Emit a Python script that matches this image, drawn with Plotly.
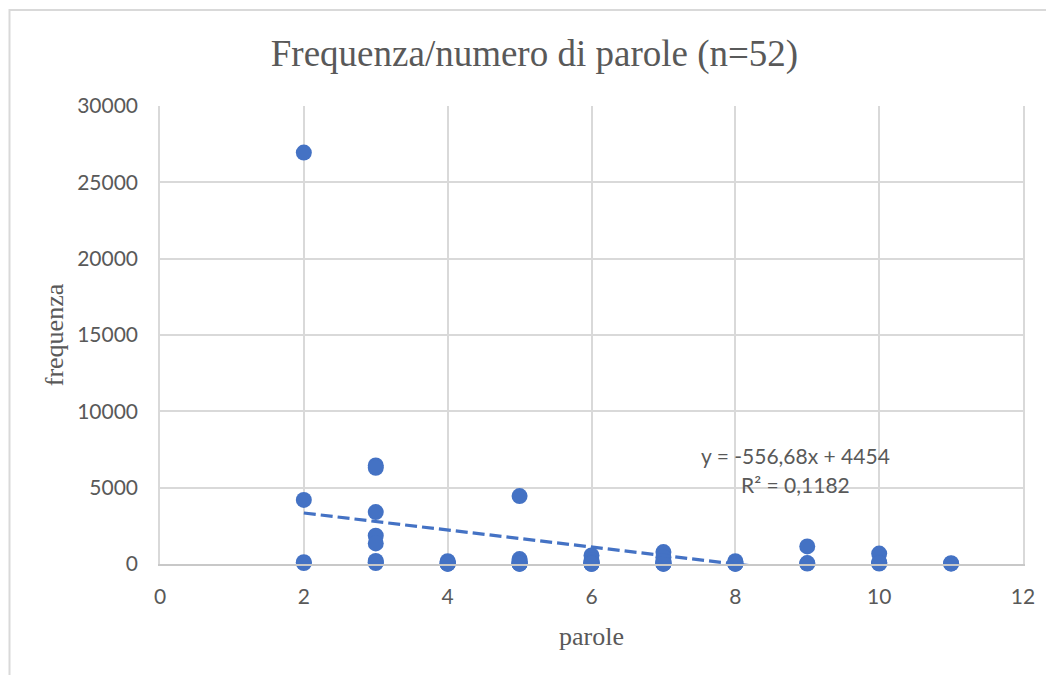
import plotly.graph_objects as go

# ---- data ----
parole_x = [2, 2, 2, 2,
            3, 3, 3, 3, 3, 3, 3, 3,
            4, 4, 4, 4, 4,
            5, 5, 5, 5, 5, 5, 5,
            6, 6, 6, 6, 6, 6, 6,
            7, 7, 7, 7, 7, 7, 7,
            8, 8, 8, 8, 8,
            9, 9, 9,
            10, 10, 10, 10,
            11, 11]
frequenza_y = [26950, 4200, 120, 60,
               6450, 6300, 3400, 1850, 1350, 200, 120, 60,
               180, 90, 40, 20, 10,
               4450, 320, 150, 80, 40, 20, 10,
               560, 250, 120, 60, 30, 15, 10,
               780, 450, 200, 90, 40, 20, 10,
               180, 90, 40, 20, 10,
               1150, 60, 30,
               680, 120, 60, 30,
               50, 20]
trend_slope = -556.68
trend_intercept = 4454
trend_r2 = 0.1182
trend_x = [2, 11]
trend_eq_text = "y = -556,68x + 4454"
trend_r2_text = "R² = 0,1182"
x_ticks = [0, 2, 4, 6, 8, 10, 12]
y_ticks = [0, 5000, 10000, 15000, 20000, 25000, 30000]

blue = "#4472C4"
grid = "#d9d9d9"
txt = "#595959"

fig = go.Figure()
fig.add_trace(go.Scatter(
    x=parole_x, y=frequenza_y, mode="markers",
    marker=dict(color=blue, size=16, line=dict(width=0)),
    showlegend=False, cliponaxis=False))
fig.add_trace(go.Scatter(
    x=trend_x, y=[trend_slope * v + trend_intercept for v in trend_x],
    mode="lines", line=dict(color=blue, width=3.2, dash="12px,5px"),
    showlegend=False))

fig.add_annotation(
    x=8.83, y=7140, xref="x", yref="y", showarrow=False,
    text=trend_eq_text, yanchor="middle",
    font=dict(family="Lato", size=21, color=txt), align="center")
fig.add_annotation(
    x=8.83, y=5240, xref="x", yref="y", showarrow=False,
    text=trend_r2_text, yanchor="middle",
    font=dict(family="Lato", size=21, color=txt), align="center")

# outer chart border
fig.add_shape(type="rect", xref="paper", yref="paper",
              x0=(1.5 - 152) / 863, x1=1.06, y0=-0.3, y1=1.2096,
              line=dict(color=grid, width=2), layer="below")

fig.update_layout(
    width=1054, height=675,
    margin=dict(l=152, r=39, t=98, b=119),
    paper_bgcolor="white", plot_bgcolor="white",
    title=dict(text="Frequenza/numero di parole (n=52)",
               x=(534.5 - 8) / 1054, xanchor="center",
               y=1 - (53 - 8) / 675, yanchor="middle",
               font=dict(family="Liberation Serif", size=37, color=txt)),
    xaxis=dict(range=[0, 12], tickvals=x_ticks, ticktext=[str(v) for v in x_ticks],
               showgrid=True, gridcolor=grid, gridwidth=1.5,
               showline=True, linecolor="#c8c8c8", linewidth=2, mirror=False,
               zeroline=False, ticks="", ticklabelstandoff=13,
               tickfont=dict(family="Lato", size=21, color=txt),
               title=dict(text="parole", standoff=20,
                          font=dict(family="Liberation Serif", size=26, color=txt))),
    yaxis=dict(range=[0, 30000], tickvals=y_ticks, ticktext=[str(v) for v in y_ticks],
               showgrid=True, gridcolor=grid, gridwidth=1.5,
               showline=True, linecolor=grid, linewidth=1.5, mirror=True,
               zeroline=False, ticks="", ticklabelstandoff=16,
               tickfont=dict(family="Lato", size=21, color=txt),
               title=dict(text="frequenza", standoff=6,
                          font=dict(family="Liberation Serif", size=26, color=txt))),
)

fig.write_html("out.html")
